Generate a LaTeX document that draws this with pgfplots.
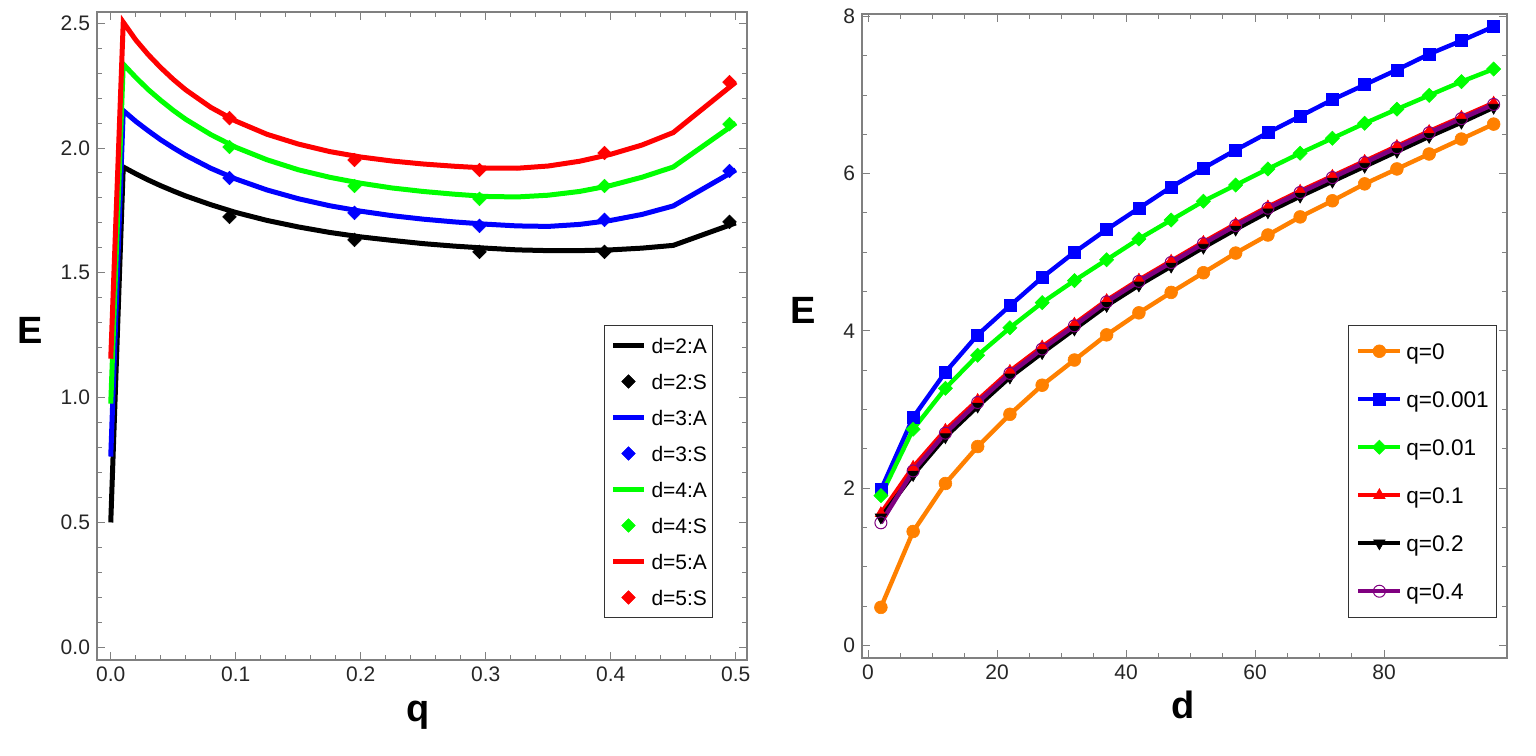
\documentclass[border=0pt]{standalone}
\usepackage{pgfplots}
\pgfplotsset{compat=1.18}
\usepackage{fontspec}
\setmainfont{Liberation Sans}
\definecolor{framegray}{RGB}{128,128,128}
\definecolor{qorange}{RGB}{255,128,0}
\definecolor{qpurple}{RGB}{128,0,128}
\definecolor{mgreen}{RGB}{0,255,0}
\definecolor{mblue}{RGB}{0,0,255}
\definecolor{mred}{RGB}{255,0,0}
\pgfplotsset{
  mmaframe/.style={
    scale only axis,
    axis line style={framegray, line width=0.6pt},
    tick style={framegray, line width=0.5pt},
    major tick length=4pt,
    minor tick length=2.5pt,
    tick align=inside,
    /pgf/number format/assume math mode=true,
    tick label style={font=\fontsize{10.5}{12}\selectfont, text=black!85},
    legend cell align=left,
  }
}
\begin{document}
\begin{tikzpicture}
\useasboundingbox (0,0) rectangle (768pt,377.5pt);
% ---------------- left panel ----------------
\begin{axis}[mmaframe,
  at={(48.5pt,47.5pt)}, anchor=south west,
  width=325pt, height=324pt,
  xmin=-0.011, xmax=0.509, ymin=-0.051, ymax=2.545,
  xtick={0,0.1,0.2,0.3,0.4,0.5}, ytick={0,0.5,1,1.5,2,2.5},
  minor x tick num=4, minor y tick num=4,
  x tick label style={/pgf/number format/.cd,fixed,fixed zerofill,precision=1,/tikz/.cd},
  y tick label style={/pgf/number format/.cd,fixed,fixed zerofill,precision=1,/tikz/.cd},
  xlabel={q}, ylabel={E},
  every axis x label/.style={at={(axis description cs:0.494,-0.085)}, anchor=center, font=\fontsize{19}{22}\selectfont\bfseries},
  every axis y label/.style={at={(axis description cs:-0.103,0.509)}, anchor=center, font=\fontsize{19}{22}\selectfont\bfseries},
  legend style={at={(0.78,0.517)}, anchor=north west, draw=black!80, line width=0.5pt,
    inner xsep=3pt, inner ysep=6pt, row sep=10pt, column sep=2.5pt,
    font=\fontsize{10.5}{12}\selectfont,
    nodes={inner sep=0pt, text height=8pt, text depth=0pt}},
  legend image code/.code={\draw[mark repeat=2,mark phase=2,#1] plot coordinates {(0pt,0pt) (7.75pt,0pt) (15.5pt,0pt)};},
]
\addplot[black, line width=2.5pt] coordinates {(0,0.5) (0.01,1.924) (0.02,1.897) (0.03,1.872) (0.04,1.849) (0.05,1.828) (0.06,1.808) (0.08,1.773) (0.1,1.742) (0.125,1.710) (0.15,1.684) (0.175,1.662) (0.2,1.644) (0.225,1.630) (0.25,1.617) (0.275,1.607) (0.3,1.599) (0.325,1.592) (0.35,1.589) (0.375,1.589) (0.4,1.592) (0.425,1.599) (0.45,1.610) (0.5,1.700)};
\addlegendentry{d=2:A}
\addplot[only marks, black, mark=square*, mark size=2.4pt, mark options={rotate=45, line width=0.3pt}] coordinates {(0.095,1.724) (0.195,1.632) (0.295,1.584) (0.395,1.584) (0.495,1.704)};
\addlegendentry{d=2:S}
\addplot[mblue, line width=2.5pt] coordinates {(0,0.764) (0.01,2.150) (0.02,2.107) (0.03,2.069) (0.04,2.033) (0.05,2.001) (0.06,1.971) (0.08,1.919) (0.1,1.876) (0.125,1.832) (0.15,1.797) (0.175,1.769) (0.2,1.747) (0.225,1.729) (0.25,1.715) (0.275,1.704) (0.3,1.695) (0.325,1.688) (0.35,1.686) (0.375,1.694) (0.4,1.710) (0.425,1.734) (0.45,1.768) (0.5,1.912)};
\addlegendentry{d=3:A}
\addplot[only marks, mblue, mark=square*, mark size=2.4pt, mark options={rotate=45, line width=0.3pt}] coordinates {(0.095,1.880) (0.195,1.740) (0.295,1.688) (0.395,1.712) (0.495,1.908)};
\addlegendentry{d=3:S}
\addplot[mgreen, line width=2.5pt] coordinates {(0,0.976) (0.01,2.336) (0.02,2.283) (0.03,2.234) (0.04,2.191) (0.05,2.151) (0.06,2.115) (0.08,2.054) (0.1,2.003) (0.125,1.953) (0.15,1.913) (0.175,1.883) (0.2,1.859) (0.225,1.840) (0.25,1.826) (0.275,1.815) (0.3,1.806) (0.325,1.804) (0.35,1.811) (0.375,1.826) (0.4,1.850) (0.425,1.883) (0.45,1.924) (0.5,2.100)};
\addlegendentry{d=4:A}
\addplot[only marks, mgreen, mark=square*, mark size=2.4pt, mark options={rotate=45, line width=0.3pt}] coordinates {(0.095,2.004) (0.195,1.848) (0.295,1.796) (0.395,1.848) (0.495,2.096)};
\addlegendentry{d=4:S}
\addplot[mred, line width=2.5pt] coordinates {(0,1.156) (0.01,2.504) (0.02,2.433) (0.03,2.374) (0.04,2.322) (0.05,2.275) (0.06,2.233) (0.08,2.163) (0.1,2.108) (0.125,2.055) (0.15,2.016) (0.175,1.986) (0.2,1.964) (0.225,1.948) (0.25,1.936) (0.275,1.927) (0.3,1.920) (0.325,1.919) (0.35,1.928) (0.375,1.947) (0.4,1.975) (0.425,2.012) (0.45,2.062) (0.5,2.264)};
\addlegendentry{d=5:A}
\addplot[only marks, mred, mark=square*, mark size=2.4pt, mark options={rotate=45, line width=0.3pt}] coordinates {(0.095,2.120) (0.195,1.952) (0.295,1.912) (0.395,1.980) (0.495,2.264)};
\addlegendentry{d=5:S}
\end{axis}
% ---------------- right panel ----------------
\begin{axis}[mmaframe,
  at={(431pt,48.5pt)}, anchor=south west,
  width=322.5pt, height=322pt,
  xmin=-0.93, xmax=99.07, ymin=-0.159, ymax=8.03,
  xtick={0,20,40,60,80}, ytick={0,2,4,6,8},
  minor x tick num=3, minor y tick num=3,
  xlabel={d}, ylabel={E},
  every axis x label/.style={at={(axis description cs:0.498,-0.073)}, anchor=center, font=\fontsize{19}{22}\selectfont\bfseries},
  every axis y label/.style={at={(axis description cs:-0.091,0.540)}, anchor=center, font=\fontsize{19}{22}\selectfont\bfseries},
  legend style={at={(0.753,0.5175)}, anchor=north west, draw=black!80, line width=0.5pt,
    inner xsep=4pt, inner ysep=9pt, row sep=16pt, column sep=1.9pt,
    font=\fontsize{11.3}{13}\selectfont,
    nodes={inner sep=0pt, text height=8pt, text depth=0pt}},
  legend image code/.code={\draw[mark repeat=2,mark phase=2,#1] plot coordinates {(0pt,0pt) (10.5pt,0pt) (21pt,0pt)};},
]
\addplot[qorange, line width=2.2pt, mark=*, mark size=3.2pt, mark options={line width=0.3pt}] coordinates {(2,0.485) (7,1.45) (12,2.06) (17,2.53) (22,2.94) (27,3.31) (32,3.63) (37,3.95) (42,4.23) (47,4.49) (52,4.74) (57,4.99) (62,5.22) (67,5.45) (72,5.655) (77,5.87) (82,6.06) (87,6.25) (92,6.44) (97,6.63)};
\addlegendentry{q=0}
\addplot[mblue, line width=2.2pt, mark=square*, mark size=3pt, mark options={line width=0.3pt}] coordinates {(2,1.98) (7,2.90) (12,3.476) (17,3.95) (22,4.32) (27,4.68) (32,5.0) (37,5.29) (42,5.56) (47,5.83) (52,6.07) (57,6.30) (62,6.52) (67,6.73) (72,6.94) (77,7.13) (82,7.32) (87,7.52) (92,7.69) (97,7.87)};
\addlegendentry{q=0.001}
\addplot[mgreen, line width=2.2pt, mark=square*, mark size=2.5pt, mark options={rotate=45, line width=0.3pt}] coordinates {(2,1.906) (7,2.75) (12,3.27) (17,3.69) (22,4.04) (27,4.36) (32,4.64) (37,4.905) (42,5.17) (47,5.41) (52,5.65) (57,5.855) (62,6.06) (67,6.26) (72,6.45) (77,6.64) (82,6.82) (87,6.995) (92,7.17) (97,7.33)};
\addlegendentry{q=0.01}
\addplot[mred, line width=2.2pt, mark=triangle*, mark size=3.3pt, mark options={line width=0.3pt}] coordinates {(2,1.68) (7,2.27) (12,2.74) (17,3.12) (22,3.49) (27,3.80) (32,4.09) (37,4.39) (42,4.65) (47,4.89) (52,5.13) (57,5.36) (62,5.58) (67,5.78) (72,5.97) (77,6.16) (82,6.35) (87,6.54) (92,6.72) (97,6.90)};
\addlegendentry{q=0.1}
\addplot[black, line width=2.2pt, mark=triangle*, mark size=3.3pt, mark options={rotate=180, line width=0.3pt}] coordinates {(2,1.63) (7,2.17) (12,2.65) (17,3.04) (22,3.41) (27,3.72) (32,4.02) (37,4.32) (42,4.58) (47,4.82) (52,5.06) (57,5.29) (62,5.51) (67,5.71) (72,5.90) (77,6.09) (82,6.28) (87,6.47) (92,6.65) (97,6.84)};
\addlegendentry{q=0.2}
\addplot[qpurple, line width=2.2pt, mark=o, mark size=3pt, mark options={line width=0.5pt}] coordinates {(2,1.56) (7,2.22) (12,2.70) (17,3.09) (22,3.46) (27,3.77) (32,4.065) (37,4.37) (42,4.63) (47,4.87) (52,5.11) (57,5.34) (62,5.56) (67,5.76) (72,5.95) (77,6.14) (82,6.33) (87,6.52) (92,6.70) (97,6.88)};
\addlegendentry{q=0.4}
\end{axis}
\end{tikzpicture}
\end{document}
